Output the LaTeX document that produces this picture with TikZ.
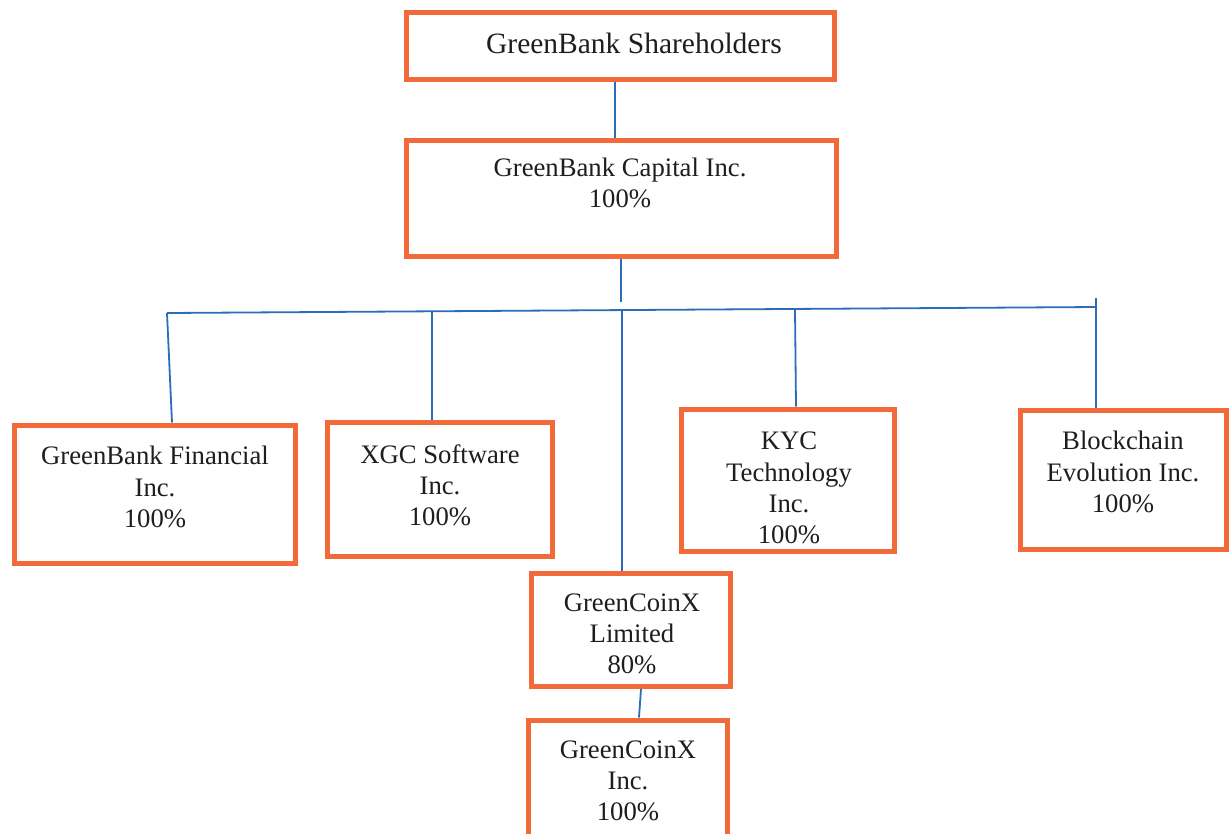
\documentclass[tikz,border=0pt]{standalone}
\usepackage{fontspec}
\setmainfont{Liberation Serif}
\definecolor{boxorange}{HTML}{F26A3A}
\definecolor{linkblue}{HTML}{2C6CB8}
\definecolor{txt}{HTML}{1E1E1E}
\begin{document}
\begin{tikzpicture}[x=1pt,y=-1pt,
  orgbox/.style={draw=boxorange,line width=5pt,fill=white,inner sep=0pt},
  lbl/.style={align=center,text=txt,inner sep=0pt,font=\fontsize{26.7}{31.2}\selectfont},
  conn/.style={draw=linkblue,line width=1.8pt}]
\useasboundingbox[fill=white] (0,0) rectangle (1231,833);
% boxes
\node[orgbox,minimum width=428,minimum height=67] (sh) at (620,46) {};
\node[orgbox,minimum width=430,minimum height=116] (cap) at (621,198) {};
\node[orgbox,minimum width=281,minimum height=138] (gbf) at (155,494) {};
\node[orgbox,minimum width=225,minimum height=134] (xgc) at (440,489) {};
\node[orgbox,minimum width=213,minimum height=142] (kyc) at (788,480) {};
\node[orgbox,minimum width=206,minimum height=139] (blk) at (1123,480) {};
\node[orgbox,minimum width=199,minimum height=113] (gcl) at (631,630) {};
\node[orgbox,minimum width=199,minimum height=124] (gci) at (628,782) {};
% labels
\node[lbl,font=\fontsize{29.5}{31.5}\selectfont] (tsh) at (634,43) {GreenBank Shareholders};
\node[lbl] (tcap) at (620,183) {GreenBank Capital Inc.\\100\%};
\node[lbl] (tgbf) at (155,487) {GreenBank Financial\\Inc.\\100\%};
\node[lbl] (txgc) at (440,485) {XGC Software\\Inc.\\100\%};
\node[lbl] (tkyc) at (789,488) {KYC\\Technology\\Inc.\\100\%};
\node[lbl] (tblk) at (1123,472) {Blockchain\\Evolution Inc.\\100\%};
\node[lbl] (tgcl) at (632,634) {GreenCoinX\\Limited\\80\%};
\node[lbl] (tgci) at (628,781) {GreenCoinX\\Inc.\\100\%};
% bus coordinates
\coordinate (capend) at (621,302);
\coordinate (busL) at (167,313);
\coordinate (busR) at (1097,307);
\coordinate (b2) at (432,311);
\coordinate (b3) at (622,310);
\coordinate (b4) at (795,309);
\coordinate (b5) at (1096,298);
% connectors
\draw[conn] ([xshift=-5pt]sh.south) -- ([xshift=-6pt]cap.north);
\draw[conn] (cap.south) -- (capend);
\draw[conn] (busL) -- (busR);
\draw[conn] (busL) -- ([xshift=17pt]gbf.north);
\draw[conn] (b2) -- (b2 |- xgc.north);
\draw[conn] (b3) -- (b3 |- gcl.north);
\draw[conn] (b4) -- ([xshift=8pt]kyc.north);
\draw[conn] (b5) -- (b5 |- blk.north);
\draw[conn] ([xshift=10pt]gcl.south) -- ([xshift=11pt]gci.north);
\end{tikzpicture}
\end{document}
